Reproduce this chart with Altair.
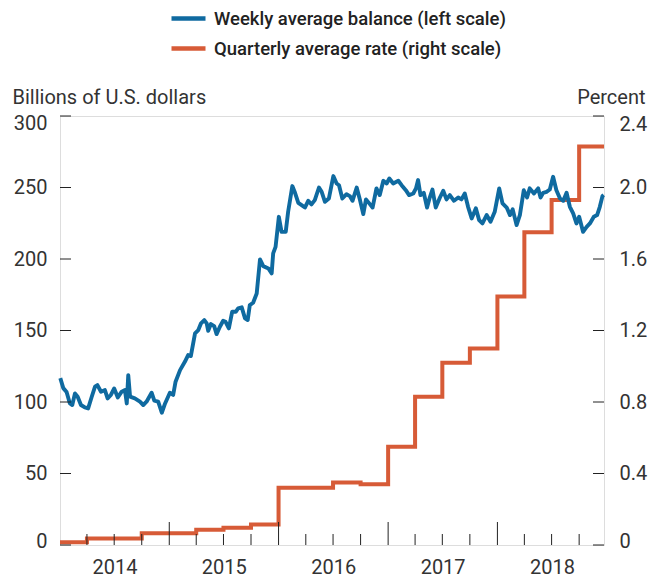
import altair as alt
import pandas as pd

# ---------------- data ----------------
balance_dates = [
    "2014-01-02", "2014-01-12", "2014-01-23", "2014-02-03", "2014-02-11", "2014-02-20", "2014-03-01",
    "2014-03-12", "2014-03-25", "2014-04-05", "2014-04-17", "2014-04-28", "2014-05-06", "2014-05-18",
    "2014-05-31", "2014-06-09", "2014-06-20", "2014-07-01", "2014-07-13", "2014-07-26", "2014-08-06",
    "2014-08-12", "2014-08-17", "2014-08-23", "2014-09-08", "2014-09-25", "2014-10-06", "2014-10-17",
    "2014-11-03", "2014-11-12", "2014-11-25", "2014-12-07", "2014-12-18", "2015-01-03", "2015-01-14",
    "2015-01-22", "2015-02-06", "2015-02-22", "2015-03-05", "2015-03-14", "2015-03-28", "2015-04-08",
    "2015-04-17", "2015-04-28", "2015-05-06", "2015-05-11", "2015-05-20", "2015-05-31", "2015-06-08",
    "2015-06-19", "2015-06-30", "2015-07-08", "2015-07-19", "2015-07-30", "2015-08-11", "2015-08-19",
    "2015-08-31", "2015-09-11", "2015-09-20", "2015-09-27", "2015-10-08", "2015-10-20", "2015-10-31",
    "2015-11-11", "2015-11-28", "2015-12-09", "2015-12-14", "2015-12-22", "2016-01-02", "2016-01-11",
    "2016-01-25", "2016-02-02", "2016-02-16", "2016-02-25", "2016-03-07", "2016-03-18", "2016-03-29",
    "2016-04-09", "2016-04-20", "2016-05-01", "2016-05-15", "2016-05-24", "2016-06-04", "2016-06-17",
    "2016-07-02", "2016-07-13", "2016-07-21", "2016-08-01", "2016-08-15", "2016-08-26", "2016-09-04",
    "2016-09-18", "2016-09-29", "2016-10-10", "2016-10-19", "2016-10-30", "2016-11-10", "2016-11-23",
    "2016-12-04", "2016-12-16", "2016-12-27", "2017-01-05", "2017-01-18", "2017-02-04", "2017-02-15",
    "2017-03-01", "2017-03-12", "2017-03-26", "2017-04-04", "2017-04-11", "2017-04-19", "2017-04-30",
    "2017-05-11", "2017-05-20", "2017-05-29", "2017-06-09", "2017-06-23", "2017-07-04", "2017-07-15",
    "2017-07-26", "2017-08-09", "2017-08-23", "2017-09-03", "2017-09-14", "2017-09-25", "2017-10-07",
    "2017-10-21", "2017-11-01", "2017-11-12", "2017-11-26", "2017-12-09", "2017-12-23", "2018-01-07",
    "2018-01-18", "2018-02-01", "2018-02-12", "2018-02-21", "2018-03-06", "2018-03-17", "2018-03-30",
    "2018-04-10", "2018-04-19", "2018-05-03", "2018-05-17", "2018-05-25", "2018-06-03", "2018-06-14",
    "2018-06-25", "2018-07-06", "2018-07-17", "2018-07-29", "2018-08-09", "2018-08-20", "2018-08-31",
    "2018-09-11", "2018-09-22", "2018-10-01", "2018-10-14", "2018-10-26", "2018-11-06", "2018-11-19",
    "2018-11-30", "2018-12-09", "2018-12-18", "2018-12-22",
]
balance_values = [
    116.7, 109.7, 107.0, 99.0, 97.9, 106.0, 103.7,
    97.9, 96.2, 95.5, 103.7, 110.7, 111.8, 107.2,
    108.3, 102.5, 104.9, 109.5, 103.2, 107.2, 108.3,
    99.0, 118.8, 103.7, 102.5, 100.2, 97.9, 100.2,
    106.5, 100.9, 100.2, 92.5, 99.0, 106.5, 104.9,
    114.2, 122.3, 128.1, 132.8, 132.1, 148.0, 150.3,
    155.0, 157.3, 155.0, 149.8, 154.5, 153.1, 147.5,
    152.6, 156.8, 156.1, 151.5, 163.1, 163.1, 165.5,
    166.2, 158.5, 157.3, 167.8, 169.4, 175.9, 199.7,
    195.0, 193.4, 189.9, 203.9, 208.5, 229.5, 219.0,
    219.0, 233.0, 251.0, 246.3, 239.3, 237.7, 236.0,
    240.7, 238.2, 241.2, 250.0, 247.0, 240.0, 242.3,
    258.0, 252.8, 251.6, 242.3, 245.3, 244.0, 240.7,
    250.0, 241.2, 231.4, 241.7, 238.9, 236.0, 249.4,
    244.7, 254.7, 252.8, 256.3, 252.8, 254.7, 251.6,
    248.1, 244.7, 245.8, 249.4, 255.2, 244.7, 246.3,
    236.0, 243.0, 248.6, 236.0, 243.0, 247.7, 241.7,
    244.7, 240.7, 243.0, 241.7, 245.8, 236.5, 228.4,
    235.4, 227.2, 224.9, 230.7, 226.0, 233.0, 249.4,
    238.9, 236.0, 230.7, 234.7, 223.7, 230.7, 248.1,
    243.0, 249.4, 245.8, 249.4, 243.0, 246.3, 247.0,
    248.6, 257.5, 248.1, 242.3, 240.7, 246.3, 236.5,
    231.9, 224.9, 229.5, 219.0, 222.5, 224.9, 229.5,
    230.7, 236.5, 244.0, 244.7,
]

rate_dates = [
    "2014-01-01", "2014-04-01", "2014-07-01", "2014-10-01",
    "2015-01-01", "2015-04-01", "2015-07-01", "2015-10-01",
    "2016-01-01", "2016-04-01", "2016-07-01", "2016-10-01",
    "2017-01-01", "2017-04-01", "2017-07-01", "2017-10-01",
    "2018-01-01", "2018-04-01", "2018-07-01", "2018-10-01",
]
rate_values = [
    0.015, 0.036, 0.036, 0.066,
    0.066, 0.085, 0.097, 0.115,
    0.32, 0.32, 0.35, 0.34,
    0.55, 0.83, 1.02, 1.10,
    1.39, 1.75, 1.93, 2.23,
]
end_date = "2018-12-23"

left_tick_values = [0, 50, 100, 150, 200, 250, 300]
right_tick_values = [0, 0.4, 0.8, 1.2, 1.6, 2.0, 2.4]
quarter_tick_dates = [
    "2014-04-01", "2014-07-01", "2014-10-01",
    "2015-04-01", "2015-07-01", "2015-10-01",
    "2016-04-01", "2016-07-01", "2016-10-01",
    "2017-04-01", "2017-07-01", "2017-10-01",
    "2018-04-01", "2018-07-01", "2018-10-01",
]
year_tick_dates = ["2015-01-01", "2016-01-01", "2017-01-01", "2018-01-01"]
year_label_years = [2014, 2015, 2016, 2017, 2018]

BAL = "Weekly average balance (left scale)"
RATE = "Quarterly average rate (right scale)"
BLUE = "#0f6aa0"
ORANGE = "#d75b37"
FONT = "Roboto"
TXT = "#333333"

W, H = 544, 429

bal_df = pd.DataFrame({"date": balance_dates, "value": balance_values})
rate_df = pd.DataFrame({"date": rate_dates + [end_date],
                        "value": rate_values + [rate_values[-1]]})
lt_df = pd.DataFrame({"v": left_tick_values})
qt_df = pd.DataFrame({"date": quarter_tick_dates})
yt_df = pd.DataFrame({"date": year_tick_dates})

x_scale = alt.Scale(type="utc", domain=[alt.DateTime(year=2014, month=1, date=1, utc=True),
                                        alt.DateTime(year=2018, month=12, date=23, utc=True)])
color_scale = alt.Scale(domain=[BAL, RATE], range=[BLUE, ORANGE])

x_axis = alt.Axis(
    values=[alt.DateTime(year=y, month=7, date=2, utc=True) for y in year_label_years],
    format="%Y", ticks=False, domain=False, grid=False, labelPadding=12,
    labelFontSize=20, labelFont=FONT, labelColor=TXT, title=None,
)
X = alt.X("date:T", scale=x_scale, axis=x_axis)

left_label_offset = {"condition": [{"test": "datum.value >= 299", "value": 7.5},
                                   {"test": "datum.value <= 0.001", "value": -4}],
                     "value": 0}
right_label_offset = {"condition": [{"test": "datum.value >= 2.39", "value": 8},
                                    {"test": "datum.value <= 0.001", "value": -4}],
                      "value": 0}

rate_line = alt.Chart(rate_df).mark_line(interpolate="step-after", strokeWidth=4).encode(
    x=X,
    y=alt.Y("value:Q", scale=alt.Scale(domain=[0, 2.4], nice=False),
            axis=alt.Axis(orient="right", values=right_tick_values,
                          labelExpr="datum.value == 0 ? '0' : format(datum.value, '.1f')",
                          ticks=False, domain=False, grid=False, labelPadding=15,
                          labelOffset=right_label_offset,
                          labelFontSize=20, labelFont=FONT, labelColor=TXT,
                          title="Percent", titleAngle=0, titleAlign="right",
                          titleBaseline="alphabetic", titleX=41, titleY=-13,
                          titleFontSize=20, titleFont=FONT, titleFontWeight="normal",
                          titleColor=TXT)),
    color=alt.Color("s:N", scale=color_scale,
                    legend=alt.Legend(title=None, orient="none", legendX=109, legendY=-117,
                                      direction="vertical", symbolType="stroke",
                                      symbolStrokeWidth=4.5, symbolSize=1156,
                                      labelFontSize=18.5, labelFont=FONT, labelFontWeight=500,
                                      labelColor="#222222", labelOffset=6, rowPadding=1,
                                      labelLimit=1000, padding=0)),
).transform_calculate(s=f"'{RATE}'")

bal_line = alt.Chart(bal_df).mark_line(strokeWidth=3.9, strokeJoin="round").encode(
    x=X,
    y=alt.Y("value:Q", scale=alt.Scale(domain=[0, 300], nice=False),
            axis=alt.Axis(orient="left", values=left_tick_values, ticks=False, domain=False,
                          grid=False, labelPadding=13, labelOffset=left_label_offset,
                          labelFontSize=20, labelFont=FONT,
                          labelColor=TXT, title="Billions of U.S. dollars", titleAngle=0,
                          titleAlign="left", titleBaseline="alphabetic", titleX=-48,
                          titleY=-13, titleFontSize=20, titleFont=FONT,
                          titleFontWeight="normal", titleColor=TXT)),
    color=alt.Color("s:N", scale=color_scale),
).transform_calculate(s=f"'{BAL}'")

left_ticks = alt.Chart(lt_df).mark_rule(color="#222222", strokeWidth=1).encode(
    y=alt.Y("v:Q", scale=alt.Scale(domain=[0, 300], nice=False), axis=None),
    x=alt.value(0), x2=alt.value(11),
)
right_ticks = alt.Chart(lt_df).mark_rule(color="#222222", strokeWidth=1).encode(
    y=alt.Y("v:Q", scale=alt.Scale(domain=[0, 300], nice=False), axis=None),
    x=alt.value(W - 11), x2=alt.value(W),
)
q_ticks = alt.Chart(qt_df).mark_rule(color="#222222", strokeWidth=1).encode(
    x=X, y=alt.value(H - 11), y2=alt.value(H),
)
y_ticks = alt.Chart(yt_df).mark_rule(color="#222222", strokeWidth=1).encode(
    x=X, y=alt.value(H - 23), y2=alt.value(H),
)

chart = alt.layer(
    rate_line, bal_line, left_ticks, right_ticks, q_ticks, y_ticks
).resolve_scale(y="independent").properties(
    width=W, height=H,
    autosize=alt.AutoSizeParams(type="none"),
    padding={"left": 52, "top": 108, "right": 52, "bottom": 33},
).configure_view(stroke="#222222", strokeWidth=1.2).configure(background="white")

chart.save("out.html", embed_options={"renderer": "svg", "actions": False})
